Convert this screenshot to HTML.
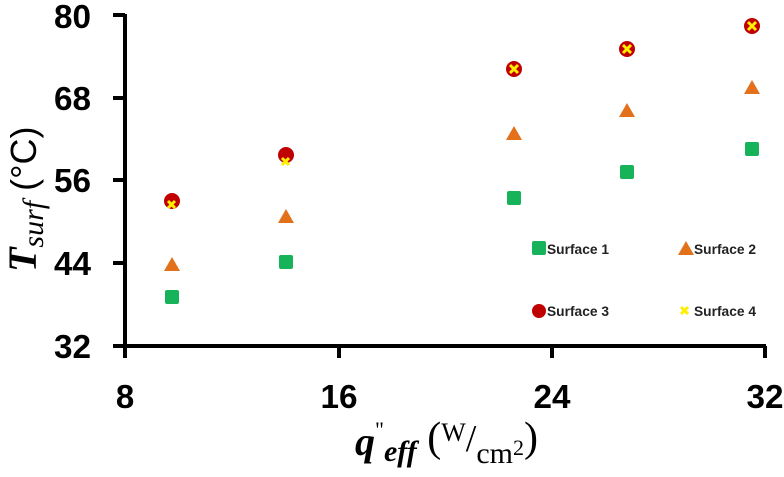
<!DOCTYPE html>
<html><head><meta charset="utf-8"><style>body{margin:0;background:#fff}</style></head><body>
<svg width="784" height="472" viewBox="0 0 784 472" xmlns="http://www.w3.org/2000/svg">
<g stroke="#000" stroke-width="4" fill="none">
<line x1="125" y1="14" x2="125" y2="348"/>
<line x1="113" y1="346" x2="766" y2="346"/>
<line x1="113" y1="15" x2="125" y2="15"/>
<line x1="113" y1="98" x2="125" y2="98"/>
<line x1="113" y1="180" x2="125" y2="180"/>
<line x1="113" y1="263" x2="125" y2="263"/>
<line x1="125" y1="346" x2="125" y2="358"/>
<line x1="339" y1="346" x2="339" y2="358"/>
<line x1="552" y1="346" x2="552" y2="358"/>
<line x1="765" y1="346" x2="765" y2="358"/>
</g>
<g font-family="Liberation Sans, sans-serif" font-weight="bold" font-size="33" fill="#000">
<g text-anchor="end">
<text x="91" y="28" textLength="37" lengthAdjust="spacingAndGlyphs">80</text><text x="91" y="110" textLength="37" lengthAdjust="spacingAndGlyphs">68</text><text x="91" y="192" textLength="37" lengthAdjust="spacingAndGlyphs">56</text><text x="91" y="275" textLength="37" lengthAdjust="spacingAndGlyphs">44</text><text x="91" y="358" textLength="37" lengthAdjust="spacingAndGlyphs">32</text>
</g>
<g text-anchor="middle">
<text x="125" y="408">8</text><text x="339" y="408" textLength="37" lengthAdjust="spacingAndGlyphs">16</text><text x="552" y="408" textLength="37" lengthAdjust="spacingAndGlyphs">24</text><text x="765" y="408" textLength="37" lengthAdjust="spacingAndGlyphs">32</text>
</g>
</g>
<text transform="translate(36,272) rotate(-90)" font-family="Liberation Serif, serif" font-size="40" fill="#000"><tspan font-weight="bold" font-style="italic">T</tspan><tspan font-style="italic" font-size="30" dy="7">surf</tspan><tspan dy="-7" font-family="Liberation Sans, sans-serif" font-size="36">  (°C)</tspan></text>
<text x="355" y="455" font-family="Liberation Serif, serif" font-size="40" fill="#000"><tspan font-weight="bold" font-style="italic">q</tspan><tspan font-size="22" dy="-18">"</tspan><tspan font-style="italic" font-weight="bold" font-size="30" dy="24">eff</tspan><tspan dy="-10" font-size="42"> (</tspan><tspan font-size="26" dy="-10">W</tspan><tspan font-size="38" dy="10">/</tspan><tspan font-size="30" dy="12">cm</tspan><tspan font-size="22" dy="-8">2</tspan><tspan font-size="42" dy="-4">)</tspan></text>
<g fill="#17b35a">
<rect x="165" y="290" width="14" height="14" rx="2"/><rect x="279" y="255" width="14" height="14" rx="2"/><rect x="507" y="191" width="14" height="14" rx="2"/><rect x="620" y="165" width="14" height="14" rx="2"/><rect x="745" y="142" width="14" height="14" rx="2"/>
<rect x="532" y="241" width="14" height="14" rx="2"/>
</g>
<g fill="#e3701b">
<path d="M172 257 L180 271 L164 271Z"/><path d="M286 209 L294 223 L278 223Z"/><path d="M514 126 L522 140 L506 140Z"/><path d="M627 103 L635 117 L619 117Z"/><path d="M752 80 L760 94 L744 94Z"/><path d="M686 241 L694 255 L678 255Z"/>
</g>
<g fill="#c00000">
<circle cx="172" cy="201" r="8"/><circle cx="286" cy="155" r="8"/><circle cx="514" cy="69" r="8"/><circle cx="627" cy="49" r="8"/><circle cx="752" cy="26" r="8"/><circle cx="539" cy="311" r="7"/>
</g>
<g stroke="#ffee00" stroke-width="3">
<path d="M168 201 l7 7 M175 201 l-7 7"/><path d="M282 158 l7 7 M289 158 l-7 7"/><path d="M510 65 l8 8 M518 65 l-8 8"/><path d="M623 45 l8 8 M631 45 l-8 8"/><path d="M748 22 l8 8 M756 22 l-8 8"/><path d="M681 307 l7 7 M688 307 l-7 7"/>
</g>
<g font-family="Liberation Sans, sans-serif" font-weight="bold" font-size="14" fill="#222">
<text x="547" y="254" textLength="62" lengthAdjust="spacingAndGlyphs">Surface 1</text><text x="694" y="254" textLength="62" lengthAdjust="spacingAndGlyphs">Surface 2</text><text x="547" y="316" textLength="62" lengthAdjust="spacingAndGlyphs">Surface 3</text><text x="694" y="316" textLength="62" lengthAdjust="spacingAndGlyphs">Surface 4</text>
</g>
</svg>
</body></html>
